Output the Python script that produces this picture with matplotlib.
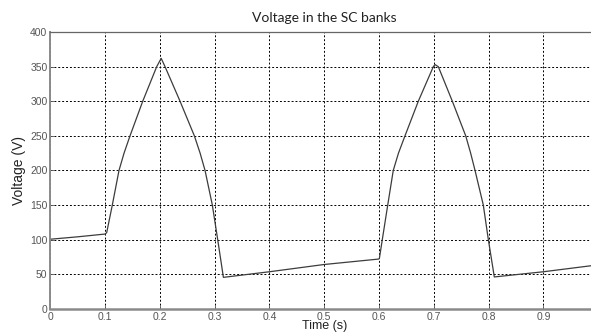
import numpy as np
import matplotlib.pyplot as plt

# SC bank voltage over one second (two charge/discharge cycles)
time_s = [0.0, 0.05, 0.1, 0.103, 0.1133, 0.1255, 0.1347, 0.1456, 0.1688,
          0.1943, 0.2025, 0.2095, 0.2369, 0.263, 0.2735, 0.2825, 0.2958,
          0.3056, 0.316, 0.4, 0.5, 0.5988, 0.6006, 0.606, 0.6159, 0.626,
          0.6355, 0.6474, 0.6717, 0.6991, 0.7022, 0.7082, 0.7338, 0.7582,
          0.7672, 0.7752, 0.7903, 0.7995, 0.8104, 0.9, 1.0]
voltage_v = [100.5, 104, 108, 110, 150, 200, 225, 250, 300,
             350, 362, 350, 300, 250, 225, 200, 150,
             100, 45.4, 53.5, 64, 71.8, 72.5, 100, 150, 200,
             225, 250, 300, 350, 353, 350, 300, 250,
             225, 200, 150, 100, 46, 53.5, 63.5]

xticks = np.arange(0, 0.95, 0.1)
xtick_labels = ["0", "0.1", "0.2", "0.3", "0.4", "0.5", "0.6", "0.7", "0.8", "0.9"]
yticks = np.arange(0, 401, 50)

fig = plt.figure(figsize=(5.91, 3.32), dpi=100)
ax = fig.add_axes([0.085, 0.070, 0.9272, 0.8334])

ax.plot(time_s, voltage_v, color="#3c3c3c", linewidth=0.9)

ax.set_xlim(0, 1)
ax.set_ylim(0, 400)
ax.set_xticks(xticks)
ax.set_xticklabels(xtick_labels)
ax.set_yticks(yticks)

ax.grid(True, color="black", linestyle=(0, (2, 2)), linewidth=0.7)
ax.tick_params(direction="in", length=3, width=0.6, colors="#555555",
               labelsize=7.5, pad=2)
for lab in ax.get_xticklabels() + ax.get_yticklabels():
    lab.set_family("Liberation Sans")

ax.spines["left"].set_color("#8a8a8a")
ax.spines["left"].set_linewidth(1.4)
ax.spines["bottom"].set_color("#8a8a8a")
ax.spines["bottom"].set_linewidth(1.8)
ax.spines["top"].set_color("#666666")
ax.spines["top"].set_linewidth(0.9)

ax.set_title("Voltage in the SC banks", fontsize=10, family="Lato",
             color="#222222", pad=7)
ax.set_ylabel("Voltage (V)", fontsize=10, family="Liberation Sans",
              color="#222222", labelpad=3)
ax.set_xlabel("Time (s)", fontsize=9, family="Liberation Sans",
              color="#222222", labelpad=-1)

fig.savefig("out.png", dpi=100)
